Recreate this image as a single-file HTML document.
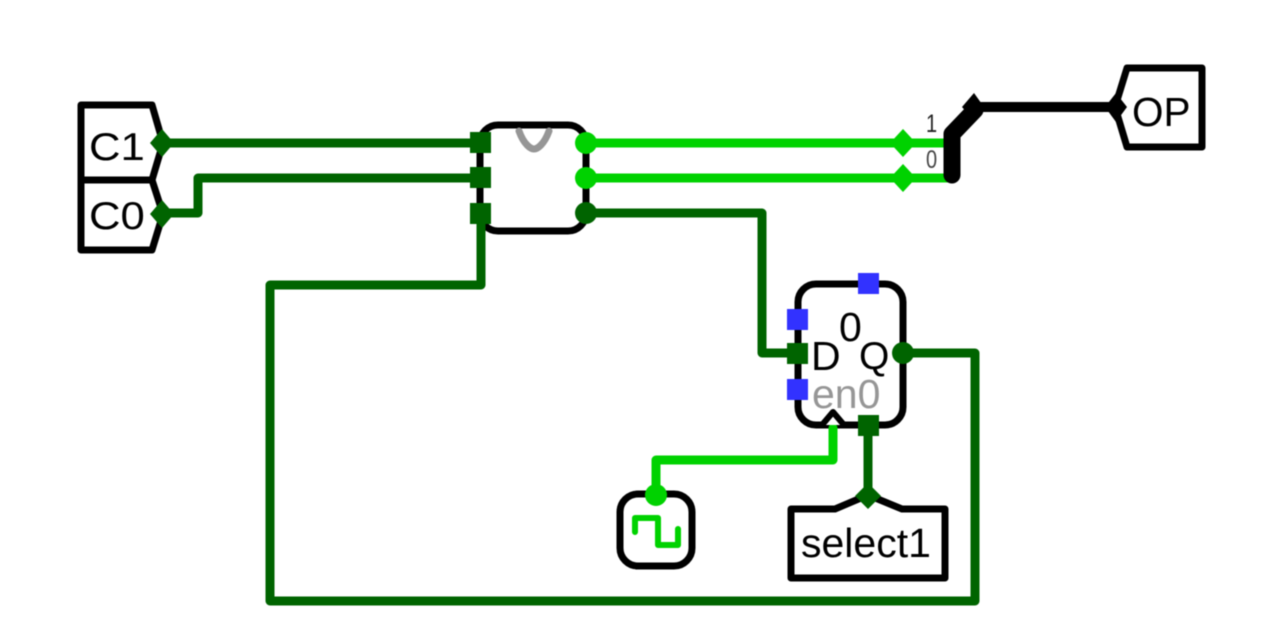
<!DOCTYPE html>
<html>
<head>
<meta charset="utf-8">
<style>
html,body{margin:0;padding:0;background:#fff;width:1280px;height:636px;overflow:hidden}
svg{display:block;filter:blur(0.5px)}
text{font-family:"Liberation Sans",sans-serif}
</style>
</head>
<body>
<svg width="1280" height="636" viewBox="0 0 1280 636" xmlns="http://www.w3.org/2000/svg">
<rect width="1280" height="636" fill="#fff"/>
<!-- pins C1/C0 -->
<g fill="none" stroke="#000" stroke-width="7" stroke-linejoin="round" stroke-linecap="round">
<path d="M163 143L152 105H81V180H152L163 143"/>
<path d="M81 180V250H152L163 214L152 180"/>
<!-- main block -->
<rect x="480" y="125" width="106" height="106" rx="18"/>
<!-- FF -->
<rect x="798" y="284" width="105" height="141" rx="18"/>
<!-- clock -->
<rect x="620" y="494" width="72" height="72" rx="18"/>
<!-- OP -->
<path d="M1115 107L1127 68H1202V147H1127L1115 107"/>
<!-- select1 -->
<path d="M868 495L835 509H791V578H945V509H902L868 495"/>
</g>
<!-- wires dark -->
<g fill="none" stroke="#006400" stroke-width="9" stroke-linejoin="round" stroke-linecap="round">
<path d="M163 143H481"/>
<path d="M163 213H198V178H481"/>
<path d="M481 214V285H270V601H975V353H903"/>
<path d="M586 213H762V353H798"/>
<path d="M868 425V495"/>
</g>
<!-- wires light -->
<g fill="none" stroke="#00d200" stroke-linejoin="round" stroke-linecap="round">
<path d="M586 143H948" stroke-width="9"/>
<path d="M586 178H948" stroke-width="9"/>
<path d="M656 495V460H833V428" stroke-width="9"/>
<path d="M635 532V518H658V545H678V529" stroke-width="6"/>
</g>
<!-- splitter / bus -->
<path d="M975 107H1115" fill="none" stroke="#000" stroke-width="10" stroke-linecap="round"/>
<path d="M952 175V134L975 110" fill="none" stroke="#000" stroke-width="17" stroke-linejoin="round" stroke-linecap="round"/>
<path d="M974 93L984 107L974 121L962 107Z" fill="#000"/>
<path d="M1116 93L1127 107L1116 122L1105 107Z" fill="#000"/>
<!-- gate symbol -->
<path d="M519 131C524 145 531 149 534 149C537 149 544 145 549 131" fill="none" stroke="#969696" stroke-width="7" stroke-linecap="round"/>
<!-- ports -->
<g fill="#006400">
<rect x="470" y="132" width="21" height="21"/>
<rect x="470" y="167" width="21" height="21"/>
<rect x="470" y="203" width="21" height="21"/>
<rect x="787" y="343" width="21" height="21"/>
<rect x="858" y="415" width="21" height="21"/>
<circle cx="586" cy="213" r="11"/>
<circle cx="903" cy="353" r="11"/>
<path d="M162 129L174 143L162 157L150 143Z"/>
<path d="M162 200L174 214L162 228L150 214Z"/>
<path d="M868 483L881 496L868 509L855 496Z"/>
</g>
<g fill="#00d200">
<circle cx="586" cy="143" r="11"/>
<circle cx="586" cy="178" r="11"/>
<circle cx="656" cy="495" r="11"/>
<path d="M903 129L916 143L903 157L890 143Z"/>
<path d="M903 164L916 178L903 192L890 178Z"/>
</g>
<g fill="#3232ff">
<rect x="787" y="309" width="21" height="21"/>
<rect x="787" y="379" width="21" height="21"/>
<rect x="858" y="273" width="21" height="21"/>
</g>
<!-- clock triangle -->
<path d="M822 425L833 412L844 425" fill="#fff" stroke="#000" stroke-width="6" stroke-linejoin="round"/>
<!-- labels -->
<g fill="#000">
<text transform="translate(89 160) scale(1.12 1)" font-size="39">C1</text>
<text transform="translate(89 229) scale(1.12 1)" font-size="39">C0</text>
<text x="1132" y="126" font-size="40.5">OP</text>
<text x="801" y="557" font-size="41">select1</text>
<text x="839" y="341" font-size="41">0</text>
<text x="811" y="370" font-size="41">D</text>
<text x="859" y="369" font-size="39">Q</text>
<text transform="translate(926 132) scale(.8 1)" font-size="25" fill="#222">1</text>
<text transform="translate(926 168) scale(.8 1)" font-size="25" fill="#444">0</text>
</g>
<text x="812" y="408" font-size="41" fill="#969696">en0</text>
</svg>
</body>
</html>
